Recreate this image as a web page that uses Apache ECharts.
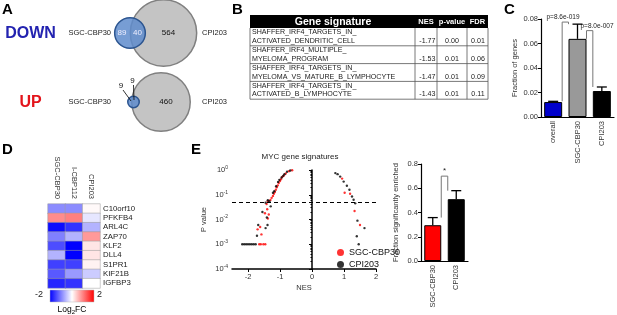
<!DOCTYPE html>
<html>
<head>
<meta charset="utf-8">
<script src="https://cdn.jsdelivr.net/npm/echarts@6/dist/echarts.min.js"></script>
<style>
html,body{margin:0;padding:0;background:#fff;}
#chart{width:617px;height:315px;}
</style>
</head>
<body>
<div id="chart"></div>
<script>
const FONT = '"Liberation Sans", Arial, sans-serif';

// A - venn counts (SGC-CBP30 only, shared, CPI203 only)
const vennRows = ['DOWN', 'UP'];
const sgcOnly = [89, 9];
const sharedGenes = [40, 9];
const cpiOnly = [564, 460];

// B - gene signature table
const sigLine1 = ['SHAFFER_IRF4_TARGETS_IN_', 'SHAFFER_IRF4_MULTIPLE_', 'SHAFFER_IRF4_TARGETS_IN_', 'SHAFFER_IRF4_TARGETS_IN_'];
const sigLine2 = ['ACTIVATED_DENDRITIC_CELL', 'MYELOMA_PROGRAM', 'MYELOMA_VS_MATURE_B_LYMPHOCYTE', 'ACTIVATED_B_LYMPHOCYTE'];
const sigNes = ['-1.77', '-1.53', '-1.47', '-1.43'];
const sigP = ['0.00', '0.01', '0.01', '0.01'];
const sigFdr = ['0.01', '0.06', '0.09', '0.11'];

// C - fraction of genes
const cCats = ['overall', 'SGC-CBP30', 'CPI203'];
const cValues = [0.0122, 0.0638, 0.0212];
const cErr = [0.0006, 0.012, 0.0033];
const cPvals = ['p=8.6e-019', 'p=8.0e-007'];

// D - heatmap log2FC
const hmCols = ['SGC-CBP30', 'I-CBP112', 'CPI203'];
const hmGenes = ['C10orf10', 'PFKFB4', 'ARL4C', 'ZAP70', 'KLF2', 'DLL4', 'S1PR1', 'KIF21B', 'IGFBP3'];
const hmValues = [
  [-0.9, -0.9, 0.05],
  [0.9, 1.0, -0.2],
  [-1.9, -1.6, -0.6],
  [-1.0, -0.6, 0.8],
  [-1.4, -2.0, 0.2],
  [-0.6, -2.0, 0.2],
  [-1.5, -1.5, 0.1],
  [-1.3, -0.8, -0.4],
  [-1.7, -1.6, 0.0]
];
const hmRange = [-2, 2];
const hmPalette = ['#0000ff', '#ffffff', '#ff0000'];

// E - MYC gene signatures [NES, p]
const sgcPoints = [
  [-0.62, 0.98], [-0.72, 0.9], [-0.82, 0.72], [-0.88, 0.6], [-0.93, 0.52], [-0.97, 0.42],
  [-1.0, 0.36], [-1.04, 0.3], [-1.07, 0.24], [-1.1, 0.2], [-1.13, 0.16], [-1.16, 0.13],
  [-1.19, 0.11], [-1.22, 0.09], [-1.26, 0.075], [-1.3, 0.062], [-1.38, 0.055], [-1.42, 0.042],
  [-1.4, 0.026], [-1.47, 0.018], [-1.35, 0.016], [-1.38, 0.011], [-1.62, 0.005], [-1.7, 0.004],
  [-1.58, 0.0025], [-1.65, 0.001], [-1.6, 0.001], [-1.52, 0.001], [-1.46, 0.001],
  [0.94, 0.45], [1.02, 0.12], [1.19, 0.11], [1.33, 0.022], [1.5, 0.006]
];
const cpiPoints = [
  [-0.68, 0.95], [-0.78, 0.85], [-0.86, 0.68], [-0.9, 0.58], [-0.95, 0.5], [-1.02, 0.4],
  [-1.06, 0.33], [-1.12, 0.22], [-1.18, 0.14], [-1.22, 0.12], [-1.29, 0.034], [-1.33, 0.055],
  [-1.38, 0.06], [-1.45, 0.048], [-1.55, 0.02], [-1.41, 0.012], [-1.39, 0.006], [-1.68, 0.006],
  [-1.72, 0.0022], [-1.45, 0.0045], [-1.76, 0.001], [-1.82, 0.001], [-1.88, 0.001], [-1.94, 0.001],
  [-2.0, 0.001], [-2.06, 0.001], [-2.12, 0.001], [-2.18, 0.001],
  [0.73, 0.75], [0.8, 0.68], [0.88, 0.54], [0.99, 0.34], [1.09, 0.23], [1.17, 0.16],
  [1.25, 0.085], [1.3, 0.063], [1.35, 0.045], [1.42, 0.009], [1.64, 0.0045], [1.4, 0.0021], [1.46, 0.001]
];
const pCutoff = 0.05;
const nesTicks = [-2, -1, 0, 1, 2];

// E - fraction significantly enriched
const eCats = ['SGC-CBP30', 'CPI203'];
const eValues = [0.295, 0.51];
const eErr = [0.063, 0.07];

const chart = echarts.init(document.getElementById('chart'));

const txt = { fontFamily: FONT, fontSize: 7.5, color: '#333' };
const blackAxis = { lineStyle: { color: '#000', width: 1.2 } };

function errorSeries(idx, vals, errs, cap) {
  return {
    type: 'custom', xAxisIndex: idx, yAxisIndex: idx, z: 3, silent: true,
    data: vals.map((v, i) => [i, v, v + errs[i]]),
    encode: { x: 0, y: [1, 2] },
    renderItem: function (params, api) {
      const b = api.coord([api.value(0), api.value(1)]);
      const t = api.coord([api.value(0), api.value(2)]);
      const st = { stroke: '#000', lineWidth: 1.3 };
      return {
        type: 'group', children: [
          { type: 'line', shape: { x1: b[0], y1: b[1], x2: t[0], y2: t[1] }, style: st },
          { type: 'line', shape: { x1: t[0] - cap, y1: t[1], x2: t[0] + cap, y2: t[1] }, style: st }
        ]
      };
    }
  };
}

const hmData = [];
hmValues.forEach((row, r) => row.forEach((v, c) => hmData.push([c, r, v])));

chart.setOption({
  animation: false,
  textStyle: { fontFamily: FONT },
  grid: [
    { left: 541, top: 19, width: 73, height: 98 },
    { left: 48, top: 204, width: 52, height: 84 },
    { left: 232, top: 170, width: 144, height: 99 },
    { left: 421, top: 164, width: 47, height: 97 }
  ],
  xAxis: [
    { gridIndex: 0, type: 'category', data: cCats, axisLine: blackAxis, axisTick: { show: false },
      axisLabel: Object.assign({ rotate: 90, margin: 4, interval: 0 }, txt) },
    { gridIndex: 1, type: 'category', data: hmCols, position: 'top', axisLine: { show: false }, axisTick: { show: false },
      axisLabel: Object.assign({ rotate: 90, margin: 5, interval: 0 }, txt) },
    { gridIndex: 2, type: 'value', min: -2.5, max: 2, name: 'NES', nameLocation: 'middle', nameGap: 15,
      nameTextStyle: txt, axisLine: { onZero: false, lineStyle: { color: '#000', width: 1.5 } },
      axisTick: { customValues: nesTicks, length: 3, lineStyle: { color: '#000' } }, splitLine: { show: false },
      axisLabel: Object.assign({ customValues: nesTicks, margin: 4 }, txt) },
    { gridIndex: 3, type: 'category', data: eCats, axisLine: blackAxis, axisTick: { show: false },
      axisLabel: Object.assign({ rotate: 90, margin: 4, interval: 0 }, txt) }
  ],
  yAxis: [
    { gridIndex: 0, type: 'value', min: 0, max: 0.08, interval: 0.02, name: 'Fraction of genes',
      nameLocation: 'middle', nameGap: 22, nameTextStyle: txt, axisLine: { show: true, lineStyle: { color: '#000', width: 1.2 } },
      axisTick: { show: true, length: 3, lineStyle: { color: '#000' } }, splitLine: { show: false },
      axisLabel: Object.assign({ margin: 3, formatter: v => v.toFixed(2) }, txt) },
    { gridIndex: 1, type: 'category', data: hmGenes, inverse: true, position: 'right', axisLine: { show: false },
      axisTick: { show: false }, axisLabel: Object.assign({ margin: 3, interval: 0 }, txt, { fontSize: 7.8, color: '#222' }) },
    { gridIndex: 2, type: 'log', logBase: 10, min: 0.0001, max: 1, name: 'P value', nameLocation: 'middle',
      nameGap: 24, nameTextStyle: txt, axisLine: { show: true, lineStyle: { color: '#000', width: 1.5 } },
      axisTick: { show: true, length: 3, lineStyle: { color: '#000' } },
      minorTick: { show: true, splitNumber: 9, length: 1.5, lineStyle: { color: '#000' } },
      splitLine: { show: false },
      axisLabel: {
        margin: 4,
        formatter: v => '{b|10}{s|' + Math.round(Math.log10(v)) + '}',
        rich: { b: Object.assign({}, txt), s: Object.assign({}, txt, { fontSize: 5, padding: [0, 0, 5, 0] }) }
      } },
    { gridIndex: 3, type: 'value', min: 0, max: 0.8, interval: 0.2, name: 'Fraction significantly enriched',
      nameLocation: 'middle', nameGap: 21, nameTextStyle: txt, axisLine: { show: true, lineStyle: { color: '#000', width: 1.2 } },
      axisTick: { show: true, length: 3, lineStyle: { color: '#000' } }, splitLine: { show: false },
      axisLabel: Object.assign({ margin: 3, formatter: v => v.toFixed(1) }, txt) }
  ],
  visualMap: {
    type: 'continuous', show: false, seriesIndex: 2, min: hmRange[0], max: hmRange[1],
    inRange: { color: hmPalette }
  },
  legend: {
    data: ['SGC-CBP30', 'CPI203'], orient: 'vertical', left: 332, top: 243, itemWidth: 7, itemHeight: 7,
    itemGap: 3, icon: 'circle', textStyle: { fontFamily: FONT, fontSize: 9, color: '#111' }
  },
  series: [
    { type: 'bar', name: 'fracGenes', xAxisIndex: 0, yAxisIndex: 0, barWidth: 18,
      data: cValues.map((v, i) => ({ value: v, itemStyle: { color: ['#0000cc', '#999999', '#000000'][i], borderColor: '#000', borderWidth: 1 } })) },
    errorSeries(0, cValues, cErr, 5),
    { type: 'heatmap', name: 'log2fc', xAxisIndex: 1, yAxisIndex: 1, data: hmData,
      itemStyle: { borderColor: '#999', borderWidth: 0.5 } },
    { type: 'scatter', name: 'SGC-CBP30', xAxisIndex: 2, yAxisIndex: 2, data: sgcPoints, symbolSize: 2.4,
      itemStyle: { color: '#ff0000' },
      markLine: { silent: true, symbol: 'none', label: { show: false },
        lineStyle: { color: '#000', type: [4, 3], width: 1.2 }, data: [{ yAxis: pCutoff }] } },
    { type: 'scatter', name: 'CPI203', xAxisIndex: 2, yAxisIndex: 2, data: cpiPoints, symbolSize: 2.4,
      itemStyle: { color: '#000' } },
    { type: 'bar', name: 'fracSig', xAxisIndex: 3, yAxisIndex: 3, barWidth: 17,
      data: eValues.map((v, i) => ({ value: v, itemStyle: { color: ['#ff0000', '#000000'][i], borderColor: '#000', borderWidth: 1 } })) },
    errorSeries(3, eValues, eErr, 5)
  ]
});

// ---- graphics: letters, venn, table, colour bar, brackets ----
const g = [];
const letter = (t, x, y) => g.push({ type: 'text', x: x, y: y, style: { text: t, font: 'bold 15px ' + FONT, fill: '#000' } });
letter('A', 2, 2); letter('B', 232, 2); letter('C', 504, 2); letter('D', 2, 142); letter('E', 191, 142);

// venn
const K = 1.35;
const vennY = [33, 102];
const grayCx = [163.5, 161];
const blueCx = [130, 133.5];
const rowColor = ['#2323b0', '#e3141b'];
vennRows.forEach((lab, i) => {
  const y = vennY[i];
  const rG = K * Math.sqrt(cpiOnly[i] + sharedGenes[i]);
  const rB = K * Math.sqrt(sgcOnly[i] + sharedGenes[i]);
  g.push({ type: 'text', x: 30.5, y: y + 1, style: { text: lab, font: 'bold 16px ' + FONT, fill: rowColor[i], textAlign: 'center', textVerticalAlign: 'middle' } });
  g.push({ type: 'text', x: 111, y: y, style: { text: 'SGC-CBP30', font: '7.5px ' + FONT, fill: '#222', textAlign: 'right', textVerticalAlign: 'middle' } });
  g.push({ type: 'text', x: 202, y: y, style: { text: 'CPI203', font: '7.5px ' + FONT, fill: '#222', textAlign: 'left', textVerticalAlign: 'middle' } });
  g.push({ type: 'circle', shape: { cx: grayCx[i], cy: y, r: rG }, style: { fill: '#c4c4c4', stroke: '#808080', lineWidth: 1.5 } });
  g.push({ type: 'circle', shape: { cx: blueCx[i], cy: y, r: rB }, style: { fill: 'rgba(95,140,205,0.85)', stroke: '#2c5590', lineWidth: 1.5 } });
  g.push({ type: 'text', x: grayCx[i] + 5, y: y, style: { text: String(cpiOnly[i]), font: '8px ' + FONT, fill: '#111', textAlign: 'center', textVerticalAlign: 'middle' } });
  if (i === 0) {
    g.push({ type: 'text', x: 122, y: y, style: { text: String(sgcOnly[i]), font: '8px ' + FONT, fill: '#eef', textAlign: 'center', textVerticalAlign: 'middle' } });
    g.push({ type: 'text', x: 137.5, y: y, style: { text: String(sharedGenes[i]), font: '8px ' + FONT, fill: '#eef', textAlign: 'center', textVerticalAlign: 'middle' } });
  } else {
    g.push({ type: 'line', shape: { x1: 123, y1: 90, x2: 131, y2: 101 }, style: { stroke: '#000', lineWidth: 0.8 } });
    g.push({ type: 'line', shape: { x1: 133.5, y1: 85, x2: 134, y2: 100 }, style: { stroke: '#000', lineWidth: 0.8 } });
    g.push({ type: 'text', x: 121, y: 86, style: { text: String(sgcOnly[i]), font: '8px ' + FONT, fill: '#111', textAlign: 'center', textVerticalAlign: 'middle' } });
    g.push({ type: 'text', x: 132.5, y: 80.5, style: { text: String(sharedGenes[i]), font: '8px ' + FONT, fill: '#111', textAlign: 'center', textVerticalAlign: 'middle' } });
  }
});

// table B
const tL = 250, tR = 488, colX = [415, 437, 467], hTop = 15, hBot = 28, rowH = 17.8;
g.push({ type: 'rect', shape: { x: tL, y: hTop, width: tR - tL, height: hBot - hTop }, style: { fill: '#000' } });
const hdr = (t, x, size) => g.push({ type: 'text', x: x, y: 22, style: { text: t, font: 'bold ' + size + 'px ' + FONT, fill: '#fff', textAlign: 'center', textVerticalAlign: 'middle' } });
hdr('Gene signature', 333, 10.5); hdr('NES', 426, 7.5); hdr('p-value', 452, 7.5); hdr('FDR', 477.5, 7.5);
const tBot = hBot + rowH * sigLine1.length;
const ln = (x1, y1, x2, y2) => g.push({ type: 'line', shape: { x1: x1, y1: y1, x2: x2, y2: y2 }, style: { stroke: '#555', lineWidth: 0.8 } });
ln(tL, hBot, tL, tBot); ln(tR, hBot, tR, tBot);
colX.forEach(x => ln(x, hBot, x, tBot));
sigLine1.forEach((s, i) => {
  const y0 = hBot + rowH * i;
  ln(tL, y0 + rowH, tR, y0 + rowH);
  const cell = (t, x, y, align) => g.push({ type: 'text', x: x, y: y, style: { text: t, font: '7.1px ' + FONT, fill: '#222', textAlign: align, textVerticalAlign: 'middle' } });
  cell(s, tL + 2, y0 + 4.5, 'left');
  cell(sigLine2[i], tL + 2, y0 + 13, 'left');
  cell(sigNes[i], 435.5, y0 + 13, 'right');
  cell(sigP[i], 452, y0 + 13, 'center');
  cell(sigFdr[i], 478, y0 + 13, 'center');
});

// D colour bar, from the heatmap's range and palette
g.push({ type: 'rect', shape: { x: 50, y: 290, width: 44, height: 12 }, style: {
  fill: new echarts.graphic.LinearGradient(0, 0, 1, 0, hmPalette.map((c, i) => ({ offset: i / (hmPalette.length - 1), color: c }))),
  stroke: '#bbb', lineWidth: 0.5 } });
g.push({ type: 'text', x: 43, y: 295, style: { text: String(hmRange[0]), font: '9px ' + FONT, fill: '#222', textAlign: 'right', textVerticalAlign: 'middle' } });
g.push({ type: 'text', x: 97, y: 295, style: { text: String(hmRange[1]), font: '9px ' + FONT, fill: '#222', textAlign: 'left', textVerticalAlign: 'middle' } });
g.push({ type: 'text', x: 72, y: 310, style: {
  text: '{a|Log}{s|2}{a|FC}', textAlign: 'center', textVerticalAlign: 'middle',
  rich: { a: { fontFamily: FONT, fontSize: 8.5, color: '#222' }, s: { fontFamily: FONT, fontSize: 6, color: '#222', padding: [5, 0, 0, 0] } }
} });

// E title
g.push({ type: 'text', x: 300, y: 157, style: { text: 'MYC gene signatures', font: '8px ' + FONT, fill: '#222', textAlign: 'center', textVerticalAlign: 'middle' } });

// significance brackets, placed through the axes
function bracket(grid, i0, i1, lowL, lowR, level, half, label, lx, size) {
  const pL = chart.convertToPixel({ gridIndex: grid }, [i0, level]);
  const pR = chart.convertToPixel({ gridIndex: grid }, [i1, level]);
  const yL = chart.convertToPixel({ gridIndex: grid }, [i0, lowL])[1];
  const yR = chart.convertToPixel({ gridIndex: grid }, [i1, lowR])[1];
  const xL = pL[0] + half, xR = pR[0] - half;
  g.push({ type: 'polyline', shape: { points: [[xL, yL], [xL, pL[1]], [xR, pR[1]], [xR, yR]] }, style: { stroke: '#777', lineWidth: 1, fill: null } });
  g.push({ type: 'text', x: lx === null ? (xL + xR) / 2 : lx, y: pL[1] - 1, style: { text: label, font: size + 'px ' + FONT, fill: '#222', textAlign: 'center', textVerticalAlign: 'bottom' } });
}
bracket(0, 0, 1, cValues[0] + cErr[0], cValues[1] + cErr[1], 0.0775, 9, cPvals[0], 563, 6.5);
bracket(0, 1, 2, cValues[1], cValues[2] + cErr[2], 0.0705, 9, cPvals[1], 597, 6.5);
bracket(3, 0, 1, eValues[0] + eErr[0], eValues[1] + eErr[1], 0.7, 8.5, '*', null, 8);

chart.setOption({ graphic: g });
</script>
</body>
</html>
